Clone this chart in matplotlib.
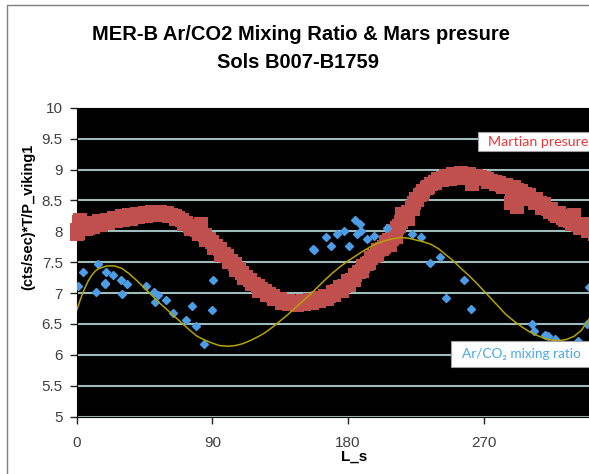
import matplotlib
matplotlib.use('Agg')
import matplotlib.pyplot as plt
from matplotlib.patches import Rectangle

plt.rcParams['font.family'] = ['Liberation Sans', 'DejaVu Sans']

# Martian pressure (red squares), Ls in degrees
pres_ls = [0, 0.5, 1, 1.5, 2, 3, 5, 7.5, 10, 12.5, 15, 17.5, 20, 22.5, 25, 27.5, 30, 32.5,
           35, 37.5, 40, 42.5, 45, 47.5, 50, 52.5, 55, 57.5, 60, 62.5, 65, 67.5, 70, 72.5,
           75, 77.5, 80, 82.5, 85, 87.5, 90, 92.5, 95, 97.5, 100, 102.5, 105, 107.5, 110,
           112.5, 115, 117.5, 120, 122.5, 125, 127.5, 130, 132.5, 135, 137.5, 140, 142.5,
           145, 147.5, 150, 152.5, 155, 157.5, 160, 162.5, 165, 167.5, 170, 172.5, 175,
           177.5, 180, 182.5, 185, 187.5, 190, 192.5, 195, 197.5, 200, 202.5, 205, 207.5,
           208, 210, 212, 212.5, 215, 216, 217.5, 220, 220, 222.5, 224, 225, 227.5, 230,
           232.5, 235, 237.5, 240, 242.5, 245, 247.5, 250, 252.5, 255, 257.5, 260, 262.5,
           265, 267.5, 270, 272.5, 275, 277.5, 280, 282.5, 285, 288, 290, 292, 292.5, 295,
           296, 297.5, 300, 302.5, 305, 307.5, 310, 312.5, 315, 317.5, 320, 322.5, 325,
           327.5, 330, 332.5, 335, 337.5, 340, 342.5, 345, 350, 355]
pres_val = [8.02, 7.95, 7.98, 8.15, 8.18, 8.08, 8.12, 8.05, 8.14, 8.10, 8.16, 8.13, 8.19,
            8.16, 8.22, 8.19, 8.24, 8.21, 8.26, 8.24, 8.28, 8.26, 8.30, 8.28, 8.32, 8.30,
            8.31, 8.29, 8.29, 8.27, 8.25, 8.21, 8.18, 8.13, 8.09, 8.06, 8.02, 8.12, 7.94,
            7.88, 7.83, 7.76, 7.72, 7.64, 7.60, 7.52, 7.47, 7.39, 7.33, 7.26, 7.22, 7.15,
            7.12, 7.06, 7.03, 6.98, 6.95, 6.91, 6.90, 6.87, 6.87, 6.84, 6.86, 6.84, 6.87,
            6.85, 6.89, 6.87, 6.92, 6.90, 6.96, 6.96, 7.02, 7.03, 7.10, 7.12, 7.20, 7.22,
            7.30, 7.34, 7.44, 7.47, 7.56, 7.60, 7.70, 7.72, 7.82, 7.86, 7.78, 8.00, 7.90,
            8.05, 8.15, 8.28, 8.22, 8.32, 8.20, 8.40, 8.45, 8.52, 8.58, 8.66, 8.70, 8.77,
            8.78, 8.84, 8.83, 8.89, 8.88, 8.92, 8.90, 8.95, 8.91, 8.93, 8.76, 8.90, 8.88,
            8.87, 8.84, 8.82, 8.79, 8.78, 8.75, 8.75, 8.45, 8.71, 8.40, 8.67, 8.66, 8.55,
            8.60, 8.58, 8.53, 8.52, 8.45, 8.44, 8.36, 8.36, 8.28, 8.30, 8.22, 8.24, 8.16,
            8.26, 8.10, 8.12, 8.05, 8.06, 8.00, 8.02, 7.98, 8.00]

# second set of pressure readings (other Mars years), filling out the band
pres_ls_2 = [6, 11, 16, 21, 26, 31, 36, 41, 46, 51, 56, 61, 66, 71, 76, 81, 86, 91, 96,
             101, 106, 111, 116, 121, 126, 131, 136, 141, 146, 151, 156, 161, 166, 171,
             176, 181, 184, 189, 194, 199, 204, 209, 214, 219, 223, 226, 229, 233, 238,
             243, 248, 253, 258, 263, 268, 273, 278, 283, 289, 294, 299, 304, 309, 314,
             319, 324, 329, 334, 339, 344]
pres_val_2 = [8.04, 8.07, 8.10, 8.13, 8.16, 8.18, 8.20, 8.23, 8.25, 8.27, 8.26, 8.24,
              8.20, 8.12, 8.04, 7.96, 7.86, 7.73, 7.62, 7.50, 7.38, 7.24, 7.14, 7.04,
              6.97, 6.90, 6.84, 6.82, 6.81, 6.82, 6.84, 6.87, 6.91, 6.97, 7.04, 7.13,
              7.22, 7.35, 7.48, 7.62, 7.74, 7.88, 8.08, 8.26, 8.36, 8.50, 8.60, 8.72,
              8.80, 8.86, 8.84, 8.87, 8.88, 8.86, 8.84, 8.80, 8.76, 8.72, 8.66, 8.61,
              8.53, 8.46, 8.38, 8.31, 8.24, 8.18, 8.12, 8.06, 8.00, 7.96]

# Ar/CO2 mixing ratio (blue diamonds)
ratio_ls = [1.1, 4.0, 13.9, 13.0, 19.2, 18.6, 19.0, 24.1, 29.6, 30.3, 33.6, 45.8, 51.3,
            53.7, 52.0, 59.5, 64.1, 72.7, 76.5, 79.2, 84.5, 90.4, 90.0, 156.6, 157.5,
            165.6, 169.0, 172.9, 177.2, 180.9, 184.9, 188.0, 185.8, 188.7, 192.6, 197.5,
            205.9, 222.3, 228.7, 234.6, 241.1, 245.1, 257.2, 261.6, 302.1, 303.4, 310.6,
            312.9, 317.4, 332.8, 338.8, 340.0]
ratio_val = [7.11, 7.34, 7.47, 7.02, 7.34, 7.14, 7.16, 7.30, 7.22, 6.99, 7.14, 7.11, 7.01,
             6.97, 6.85, 6.89, 6.68, 6.57, 6.79, 6.46, 6.18, 7.22, 6.72, 7.72, 7.69,
             7.90, 7.76, 7.95, 8.00, 7.77, 8.18, 8.12, 7.96, 8.00, 7.87, 7.92,
             8.06, 7.96, 7.90, 7.49, 7.59, 6.92, 7.21, 6.75, 6.50, 6.39, 6.33,
             6.31, 6.26, 6.22, 6.50, 7.10]

# trend line through the mixing ratio
fit_ls = [0, 2.5, 5, 7.5, 10, 12.5, 15, 20, 25, 30, 35, 40, 45, 50, 55, 60, 65, 70, 75,
          80, 85, 90, 95, 100, 105, 110, 115, 120, 125, 130, 135, 140, 145, 150, 155, 160,
          165, 170, 175, 180, 185, 190, 195, 200, 205, 210, 215, 220, 225, 230, 235, 240,
          245, 250, 255, 260, 265, 270, 275, 280, 285, 290, 295, 300, 305, 310, 315, 320,
          325, 330, 335, 340, 345, 350]
fit_val = [6.72, 6.90, 7.06, 7.19, 7.29, 7.36, 7.40, 7.44, 7.44, 7.40, 7.31, 7.20, 7.08,
           6.96, 6.84, 6.73, 6.62, 6.51, 6.40, 6.30, 6.24, 6.19, 6.15, 6.14, 6.15, 6.18,
           6.23, 6.29, 6.36, 6.45, 6.55, 6.65, 6.76, 6.87, 6.98, 7.10, 7.22, 7.33, 7.43,
           7.52, 7.60, 7.68, 7.75, 7.81, 7.85, 7.88, 7.90, 7.89, 7.86, 7.83, 7.79, 7.72,
           7.62, 7.52, 7.40, 7.29, 7.17, 7.04, 6.91, 6.78, 6.65, 6.55, 6.46, 6.38, 6.32,
           6.27, 6.24, 6.23, 6.25, 6.30, 6.40, 6.58, 6.80, 7.05]

x_ticks = [0, 90, 180, 270]
y_ticks = [5, 5.5, 6, 6.5, 7, 7.5, 8, 8.5, 9, 9.5, 10]

W, H = 589, 474
fig = plt.figure(figsize=(W / 100, H / 100), dpi=100)

# outer chart frame
fig.add_artist(Rectangle((7 / W, -0.1), 1.2, (H - 5) / H + 0.1, transform=fig.transFigure,
                         fill=False, edgecolor='#7f7f7f', lw=1.0))

ax = fig.add_axes([76.7 / W, 57.3 / H, 542.5 / W, 309 / H])
ax.set_facecolor('black')
ax.set_xlim(0, 360)
ax.set_ylim(5, 10)
ax.set_xticks(x_ticks)
ax.set_yticks(y_ticks)
ax.set_yticklabels(['%g' % v for v in y_ticks])
ax.yaxis.grid(True, color='#9fbcbc', lw=1.5)
ax.set_axisbelow(True)
for s in ax.spines.values():
    s.set_color('black')
ax.tick_params(axis='both', direction='out', length=5, width=1, color='#222222',
               labelsize=11, labelcolor='#404040')
ax.tick_params(axis='x', pad=9)
ax.tick_params(axis='y', pad=5)

ax.plot(pres_ls + pres_ls_2, pres_val + pres_val_2, 's', ms=10, color='#c0504d',
        mew=0, clip_on=False, zorder=3)
ax.plot(ratio_ls, ratio_val, 'D', ms=4.5, color='#4d9de6', mec='#4d9de6', zorder=4)
ax.plot(fit_ls, fit_val, color='#b5a300', lw=1.1, zorder=5)

fig.text(301 / W, 1 - 35 / H, 'MER-B Ar/CO2 Mixing Ratio & Mars presure', ha='center',
         va='center', fontsize=14.5, fontweight='bold')
fig.text(298 / W, 1 - 62 / H, 'Sols B007-B1759', ha='center', va='center',
         fontsize=14.5, fontweight='bold')
fig.text(28 / W, 1 - 217 / H, '(cts/sec)*T/P_viking1', rotation=90, ha='center',
         va='center', fontsize=10.5, fontweight='bold')
fig.text(354 / W, 1 - 457 / H, 'L_s', ha='center', va='center', fontsize=11,
         fontweight='bold')

# label boxes
fig.add_artist(Rectangle((478.3 / W, 1 - 150.7 / H), 0.3, 18.4 / H, transform=fig.transFigure,
                         facecolor='white', edgecolor='#a0a0a0', lw=0.8))
fig.text(488 / W, 1 - 141.5 / H, 'Martian presure', ha='left', va='center', fontsize=10.3,
         color='#e8383a', family=['Lato', 'DejaVu Sans'])
fig.add_artist(Rectangle((450.7 / W, 1 - 367.3 / H), 0.3, 26.3 / H, transform=fig.transFigure,
                         facecolor='white', edgecolor='#a0a0a0', lw=0.8))
fig.text(461.7 / W, 1 - 354 / H, 'Ar/CO\u2082 mixing ratio', ha='left', va='center',
         fontsize=9.8, color='#4aa8e8', family=['Lato', 'DejaVu Sans'])

fig.savefig('out.png', dpi=100, facecolor='white')
